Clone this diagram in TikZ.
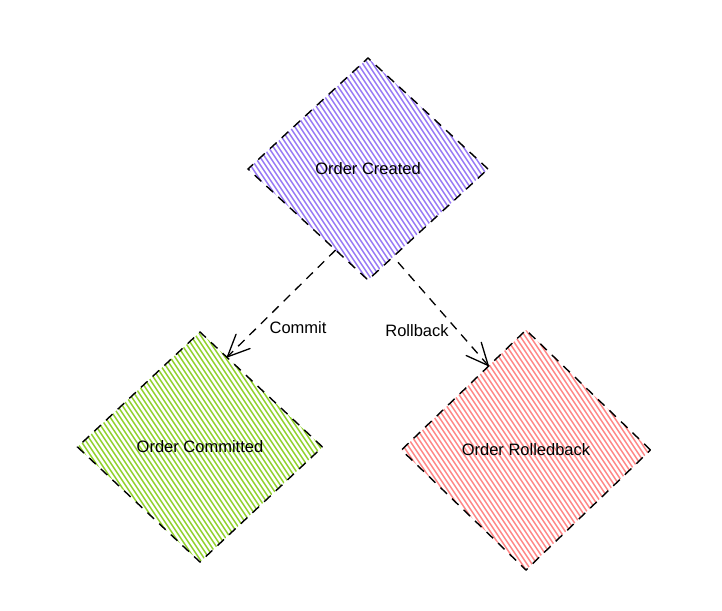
\documentclass[tikz,border=0pt]{standalone}
\usepackage{fontspec}
\setmainfont{Liberation Sans}
\usetikzlibrary{shapes.geometric,arrows.meta,calc}
\definecolor{hviolet}{HTML}{9677F5}
\definecolor{hgreen}{HTML}{8FD12A}
\definecolor{hred}{HTML}{FF8585}
\tikzset{
  hatch/.style={path picture={
    \foreach \k in {-44,...,44}{
      \draw[solid,#1,line width=1.5pt]
        ([xshift=\k*5pt]path picture bounding box.center) ++(-110pt,165pt) -- ++(220pt,-330pt);
    }}},
  state/.style={diamond, draw=black, line width=1.4pt, dash pattern=on 9pt off 7pt,
    inner sep=0pt, outer sep=0pt, font=\fontsize{16.5}{18}\selectfont},
  flow/.style={draw=black, line width=1.3pt, dash pattern=on 9pt off 7pt,
    -{Straight Barb[length=22pt,width=20pt,round]}},
  lbl/.style={font=\fontsize{16.5}{18}\selectfont, inner sep=0pt}
}
\begin{document}
\begin{tikzpicture}[x=1pt,y=-1pt]
\useasboundingbox (0,0) rectangle (722,610);
\node[state, hatch=hviolet, minimum width=240pt, minimum height=222pt] (oc) at (368,169) {Order Created};
\node[state, hatch=hgreen, minimum width=245pt, minimum height=230pt] (ocm) at (200,447) {Order Committed};
\node[state, hatch=hred, minimum width=249pt, minimum height=240pt] (orb) at (526,450) {Order Rolledback};
\coordinate (c1a) at ($(oc.south)!0.27!(oc.west)$);
\coordinate (c1b) at ($(ocm.north)!0.22!(ocm.east)$);
\coordinate (c2a) at ($(oc.south)!0.25!(oc.east)+(0,10)$);
\coordinate (c2b) at ($(orb.north)!0.3!(orb.west)$);
\draw[flow] (c1a) -- (c1b);
\draw[flow] (c2a) -- (c2b);
\node[lbl] (lc) at (298,328) {Commit};
\node[lbl] (lr) at (417,331) {Rollback};
\end{tikzpicture}
\end{document}
